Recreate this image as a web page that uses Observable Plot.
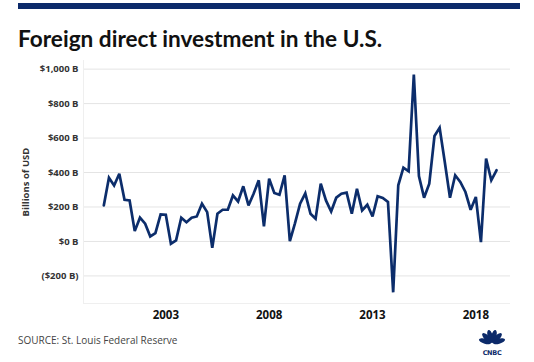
<!DOCTYPE html>
<html>
<head>
<meta charset="utf-8">
<script src="https://cdn.jsdelivr.net/npm/d3@7"></script>
<script src="https://cdn.jsdelivr.net/npm/@observablehq/plot@0.6"></script>
<style>
  html, body { margin: 0; padding: 0; background: #fff; }
  #root { position: relative; width: 534px; height: 362px; overflow: hidden; font-family: Lato, "Open Sans", sans-serif; }
  #bar { position: absolute; left: 18px; top: 3px; width: 502px; height: 6px; background: #0c2a6a; }
  #title { position: absolute; left: 18px; top: 25px; font-size: 22.6px; font-weight: 700; color: #111; white-space: nowrap; }
  #chart { position: absolute; left: 0; top: 55px; }
  #source { position: absolute; left: 18px; top: 333px; font-size: 10px; color: #444; font-family: "Open Sans", sans-serif; }
  #logo { position: absolute; left: 476px; top: 328px; }
</style>
</head>
<body>
<div id="root">
  <div id="bar"></div>
  <div id="title">Foreign direct investment in the U.S.</div>
  <div id="chart"></div>
  <div id="source">SOURCE: St. Louis Federal Reserve</div>
  <div id="logo"></div>
</div>
<script>
// Quarterly FDI in the U.S., billions of USD, 2000 Q1 – 2019 Q1
const startYear = 2000;
const values = [
  209, 370, 325, 393, 242, 238, 60, 138, 103, 29, 48, 157, 155, -13, 6, 138,
  112, 138, 145, 219, 170, -37, 161, 184, 184, 267, 232, 320, 209, 277, 355, 87,
  364, 281, 271, 384, 2, 105, 219, 279, 161, 132, 335, 238, 174, 254, 277, 283,
  161, 306, 180, 213, 145, 262, 252, 229, -295, 326, 428, 407, 969, 380, 254, 335,
  612, 659, 461, 254, 384, 345, 287, 184, 258, -4, 481, 355, 413
];
const yTicks = [-200, 0, 200, 400, 600, 800, 1000];
const xTickYears = [2003, 2008, 2013, 2018];
const yLabel = "Billions of USD";

const data = values.map((v, i) => ({
  date: new Date(Date.UTC(startYear + Math.floor(i / 4), (i % 4) * 3, 1)),
  value: v
}));

const fmtY = d => d < 0 ? `($${d3.format(",")(-d)} B)` : `$${d3.format(",")(d)} B`;

const chart = Plot.plot({
  width: 534,
  height: 275,
  marginLeft: 83,
  marginRight: 24,
  marginTop: 5,
  marginBottom: 27,
  style: { fontFamily: "'Open Sans', sans-serif", background: "transparent", overflow: "visible" },
  x: { type: "utc", insetLeft: 20.3, insetRight: 14 },
  y: { domain: [-360, 1050] },
  marks: [
    Plot.ruleY(yTicks, { stroke: "#e4e4e4", strokeWidth: 1 }),
    Plot.ruleY([-360], { stroke: "#efefef", strokeWidth: 1 }),
    Plot.frame({ anchor: "left", stroke: "#efefef" }),
    Plot.axisY({
      ticks: yTicks, tickSize: 0, tickPadding: 5, tickFormat: fmtY,
      fontSize: 9.5, fontWeight: 700, fill: "#333",
      label: yLabel, labelAnchor: "center", labelArrow: "none", labelOffset: 61
    }),
    Plot.axisX({
      ticks: xTickYears.map(y => new Date(Date.UTC(y, 0, 1))),
      tickSize: 0, tickPadding: 7, tickFormat: d3.utcFormat("%Y"),
      fontSize: 11.5, fontWeight: 700, fill: "#111", label: null
    }),
    Plot.line(data, {
      x: "date",
      y: "value",
      stroke: "#0c2d6b", strokeWidth: 2.7, strokeLinejoin: "miter", strokeMiterlimit: 3
    })
  ]
});
document.getElementById("chart").appendChild(chart);

// CNBC peacock logo (monochrome navy)
const logo = d3.select("#logo").append("svg").attr("width", 32).attr("height", 30);
const g = logo.append("g").attr("transform", "translate(16,15)");
[-75, -45, -15, 15, 45, 75].forEach(a => {
  g.append("ellipse").attr("cx", 0).attr("cy", -7).attr("rx", 2.6).attr("ry", 6.5)
    .attr("fill", "#0c2a6a").attr("transform", `rotate(${a})`);
});
logo.append("text").attr("x", 16).attr("y", 27).attr("text-anchor", "middle")
  .attr("font-size", 6.5).attr("font-weight", 900).attr("font-family", "'DejaVu Sans', sans-serif")
  .attr("fill", "#0c2a6a").attr("letter-spacing", -0.3).text("CNBC");
</script>
</body>
</html>
